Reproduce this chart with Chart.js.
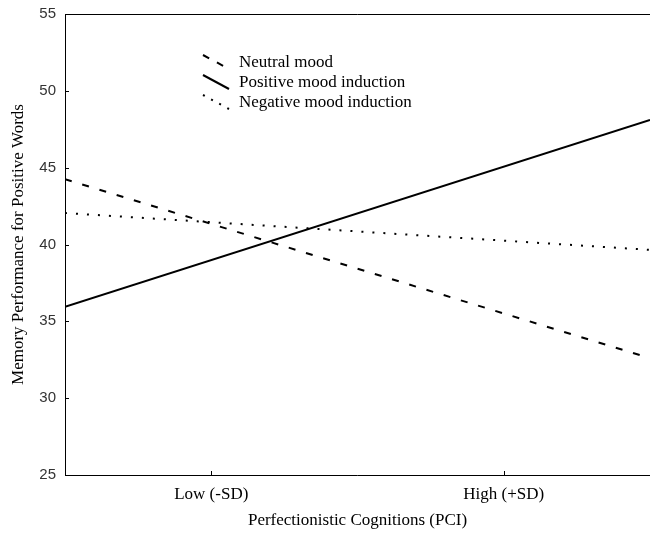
<!DOCTYPE html>
<html>
<head>
<meta charset="utf-8">
<script src="https://cdn.jsdelivr.net/npm/chart.js@4"></script>
<style>
  html, body { margin: 0; padding: 0; background: #fff; }
  #wrap { width: 650px; height: 534px; }
</style>
</head>
<body>
<div id="wrap"><canvas id="lineChart" width="650" height="534"></canvas></div>
<script>
// values, where each line meets the left and right plot edges
const edgeX = [-0.5, 1.5]
const categories = ['Low (-SD)', 'High (+SD)']
const categoryX = [0, 1]
const neutralMood = [44.25, 32.6]
const positiveMood = [35.95, 48.1]
const negativeMood = [42.05, 39.65]
const yTicks = [25, 30, 35, 40, 45, 50, 55]

const serif = '"Liberation Serif", "Times New Roman", serif'

const series = [
  { label: 'Neutral mood', values: neutralMood, dash: [7, 11] },
  { label: 'Positive mood induction', values: positiveMood, dash: [] },
  { label: 'Negative mood induction', values: negativeMood, dash: [2, 9] }
]

// box on left/top/bottom, inward tick marks, and the little legend
const framePlugin = {
  id: 'frame',
  afterDraw (chart) {
    const { ctx, chartArea: a, scales } = chart
    ctx.save()
    ctx.strokeStyle = '#000'
    ctx.lineWidth = 1
    ctx.beginPath()
    ctx.moveTo(a.right, a.top + 0.5)
    ctx.lineTo(a.left + 0.5, a.top + 0.5)
    ctx.lineTo(a.left + 0.5, a.bottom + 0.5)
    ctx.lineTo(a.right, a.bottom + 0.5)
    ctx.stroke()
    ctx.beginPath()
    yTicks.forEach(v => {
      const y = Math.round(scales.y.getPixelForValue(v)) + 0.5
      ctx.moveTo(a.left, y)
      ctx.lineTo(a.left + 4, y)
    })
    categoryX.forEach(v => {
      const x = Math.round(scales.x.getPixelForValue(v)) + 0.5
      ctx.moveTo(x, a.bottom)
      ctx.lineTo(x, a.bottom - 4)
    })
    ctx.stroke()

    // legend
    ctx.font = '17px ' + serif
    ctx.fillStyle = '#000'
    ctx.textBaseline = 'middle'
    const rows = [63, 83, 103]
    series.forEach((s, i) => {
      const y = rows[i]
      ctx.beginPath()
      ctx.lineWidth = 2
      ctx.setLineDash(s.dash.length ? [s.dash[0], s.dash[1] * 0.8] : [])
      ctx.moveTo(203, y - 8)
      ctx.lineTo(229, y + 6)
      ctx.stroke()
      ctx.setLineDash([])
      ctx.fillText(s.label, 239, y)
    })
    ctx.restore()
  }
}

new Chart(document.getElementById('lineChart').getContext('2d'), {
  type: 'line',
  data: {
    datasets: series.map(s => ({
      label: s.label,
      data: s.values.map((v, i) => ({ x: edgeX[i], y: v })),
      borderColor: '#000',
      borderWidth: 2,
      borderDash: s.dash,
      pointRadius: 0,
      fill: false,
      tension: 0
    }))
  },
  options: {
    responsive: false,
    animation: false,
    layout: { padding: { top: 14, right: 0, left: 0, bottom: 0 } },
    plugins: {
      legend: { display: false },
      tooltip: { enabled: false }
    },
    scales: {
      x: {
        type: 'linear',
        min: edgeX[0],
        max: edgeX[1],
        afterBuildTicks: scale => { scale.ticks = categoryX.map(v => ({ value: v })) },
        afterFit: scale => {
          scale.height = 59
          scale.paddingLeft = 0
          scale.paddingRight = 0
        },
        grid: { display: false, drawTicks: false },
        border: { display: false },
        ticks: {
          padding: 9,
          color: '#000',
          font: { family: serif, size: 17 },
          callback: v => categories[categoryX.indexOf(v)] || ''
        },
        title: {
          display: true,
          text: 'Perfectionistic Cognitions (PCI)',
          color: '#000',
          font: { family: serif, size: 17 },
          padding: { top: 0, bottom: 3 }
        }
      },
      y: {
        min: 25,
        max: 55,
        afterBuildTicks: scale => { scale.ticks = yTicks.map(v => ({ value: v })) },
        afterFit: scale => {
          scale.width = 65
          scale.paddingTop = 0
          scale.paddingBottom = 0
        },
        grid: { display: false, drawTicks: false },
        border: { display: false },
        ticks: {
          padding: 9,
          color: '#333',
          font: { family: '"Liberation Sans", Arial, sans-serif', size: 15 }
        },
        title: {
          display: true,
          text: 'Memory Performance for Positive Words',
          color: '#000',
          font: { family: serif, size: 17 },
          padding: { top: 8, bottom: 0 }
        }
      }
    }
  },
  plugins: [framePlugin]
})
</script>
</body>
</html>
